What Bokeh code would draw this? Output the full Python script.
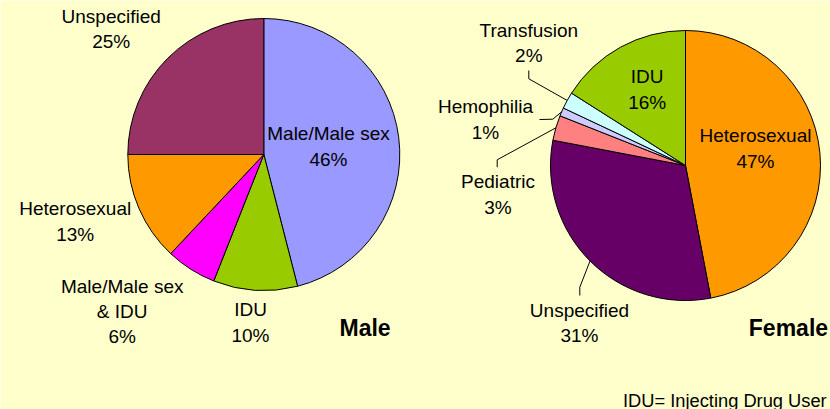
import numpy as np
from bokeh.plotting import figure
from bokeh.models import Range1d, ColumnDataSource
from bokeh.embed import file_html
from bokeh.resources import INLINE
from bokeh.core.properties import value

# ---------------- data ----------------
male_categories = ["Male/Male sex", "IDU", "Male/Male sex\n& IDU", "Heterosexual", "Unspecified"]
male_values = [46, 10, 6, 13, 25]
male_colors = ["#9999FF", "#99CC00", "#FF00FF", "#FF9900", "#993366"]

female_categories = ["Heterosexual", "Unspecified", "Pediatric", "Hemophilia", "Transfusion", "IDU"]
female_values = [47, 31, 3, 1, 2, 16]
female_colors = ["#FF9900", "#660066", "#FF8080", "#CCCCFF", "#CCFFFF", "#99CC00"]

titles = ["Male", "Female"]
footnote = "IDU= Injecting Drug User"

# ---------------- layout (page pixel coords) ----------------
BG = "#FFFFCC"
PW, PH = 830, 409
FONT = "Liberation Sans"

def Y(py):
    return PH - py

male_center, male_r = (263.3, 154.0), 136
female_center, female_r = (685.0, 165.0), 135

male_label_pos = [(328, 146), (250, 322), (121.7, 311), (74.7, 221), (110.7, 28.7)]
female_label_pos = [(755, 148), (579, 322.5), (497.5, 194), (485, 119), (528.3, 42.5), (646.7, 89)]
# leader elbows (start point near label, elbow point), None = no leader
female_leaders = [None, [(579.3, 295), (579.3, 286.7)], [(496.7, 166.7), (496.7, 159.3)],
                  [(539, 119), (552.3, 118.7)], [(528.3, 70), (528.3, 78.3)], None]
title_pos = [(339.0, 327.7), (748.3, 327.7)]

p = figure(width=PW, height=PH, output_backend="svg", toolbar_location=None,
           x_range=Range1d(0, PW), y_range=Range1d(0, PH),
           x_axis_location=None, y_axis_location=None,
           min_border=0, min_border_left=0, min_border_right=0,
           min_border_top=0, min_border_bottom=0)
p.grid.visible = False
p.outline_line_color = None
p.background_fill_color = BG
p.border_fill_color = BG


def draw_pie(center, r, cats, vals, colors, label_pos, leaders):
    vals = np.array(vals, dtype=float)
    frac = vals / vals.sum()
    cum_end = np.cumsum(frac)
    cum_start = cum_end - frac
    start = np.pi / 2 - 2 * np.pi * cum_end
    end = np.pi / 2 - 2 * np.pi * cum_start
    src = ColumnDataSource(dict(x=[center[0]] * len(vals), y=[Y(center[1])] * len(vals),
                                start=start, end=end, color=colors))
    p.wedge(x="x", y="y", radius=r, start_angle="start", end_angle="end",
            fill_color="color", line_color="black", line_width=1, source=src)
    # labels
    texts = ["%s\n%d%%" % (c, v) for c, v in zip(cats, vals)]
    lsrc = ColumnDataSource(dict(x=[lp[0] for lp in label_pos], y=[Y(lp[1]) for lp in label_pos], t=texts))
    p.text(x="x", y="y", text="t", source=lsrc, text_align="center", text_baseline="middle",
           text_font=value(FONT), text_font_size="19px", text_color="black", text_line_height=1.2)
    # leaders
    xs, ys = [], []
    if leaders:
        mids = (cum_start + cum_end) / 2 * 2 * np.pi
        for lead, th in zip(leaders, mids):
            if lead is None:
                continue
            ex = center[0] + r * np.sin(th)
            ey = center[1] - r * np.cos(th)
            pts = list(lead) + [(ex, ey)]
            xs.append([q[0] for q in pts])
            ys.append([Y(q[1]) for q in pts])
        p.multi_line(xs=xs, ys=ys, line_color="black", line_width=1)


draw_pie(male_center, male_r, male_categories, male_values, male_colors, male_label_pos, None)
draw_pie(female_center, female_r, female_categories, female_values, female_colors, female_label_pos, female_leaders)

p.text(x=[tp[0] for tp in title_pos], y=[Y(tp[1]) for tp in title_pos], text=titles,
       text_align="left", text_baseline="alphabetic", text_font=value(FONT),
       text_font_size="23px", text_font_style="bold", text_color="black")

p.text(x=[622.5], y=[Y(399.5)], text=[footnote], text_align="left", text_baseline="alphabetic",
       text_font=value(FONT), text_font_size="18.3px", text_color="black")

open("out.html", "w").write(file_html(p, INLINE))
